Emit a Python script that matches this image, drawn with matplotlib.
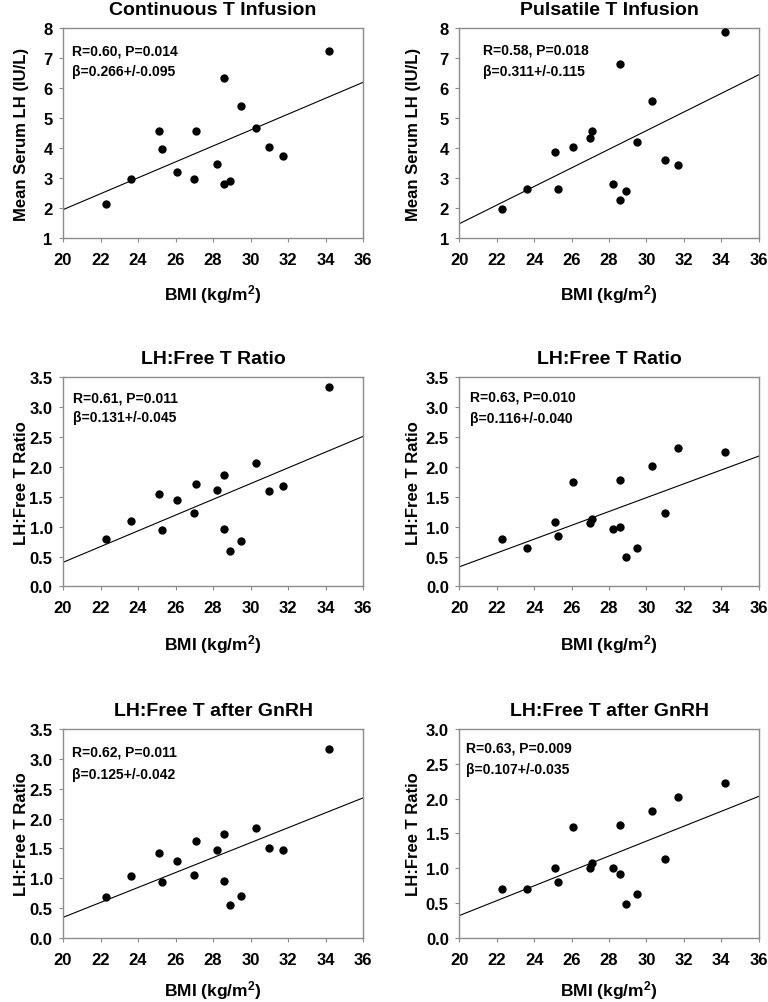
import numpy as np
import matplotlib
matplotlib.use("Agg")
import matplotlib.pyplot as plt

# Data
bmi = [22.3, 23.6, 25.1, 25.3, 26.1, 27.0, 27.1, 28.2, 28.6, 28.6, 28.9, 29.5, 30.3, 31.0, 31.7, 34.2]

cont_lh = [2.15, 2.96, 4.56, 3.97, 3.21, 2.97, 4.57, 3.47, 6.34, 2.80, 2.90, 5.40, 4.66, 4.03, 3.73, 7.24]
puls_lh = [1.97, 2.62, 3.87, 2.65, 4.02, 4.35, 4.58, 2.81, 6.80, 2.26, 2.57, 4.20, 5.58, 3.59, 3.45, 7.86]
cont_ratio = [0.80, 1.09, 1.54, 0.95, 1.45, 1.23, 1.71, 1.61, 1.87, 0.96, 0.60, 0.76, 2.06, 1.59, 1.67, 3.33]
puls_ratio = [0.79, 0.64, 1.08, 0.85, 1.74, 1.06, 1.13, 0.96, 1.78, 1.00, 0.50, 0.65, 2.02, 1.23, 2.31, 2.24]
cont_gnrh = [0.69, 1.03, 1.43, 0.93, 1.29, 1.06, 1.63, 1.47, 1.74, 0.95, 0.55, 0.71, 1.85, 1.50, 1.48, 3.17]
puls_gnrh = [0.71, 0.71, 1.01, 0.80, 1.59, 1.01, 1.07, 1.01, 1.62, 0.92, 0.49, 0.63, 1.83, 1.14, 2.02, 2.22]

titles = ["Continuous T Infusion", "Pulsatile T Infusion",
          "LH:Free T Ratio", "LH:Free T Ratio",
          "LH:Free T after GnRH", "LH:Free T after GnRH"]
ylabels = ["Mean Serum LH (IU/L)", "Mean Serum LH (IU/L)",
           "LH:Free T Ratio", "LH:Free T Ratio",
           "LH:Free T Ratio", "LH:Free T Ratio"]
r_text = ["R=0.60, P=0.014", "R=0.58, P=0.018", "R=0.61, P=0.011",
          "R=0.63, P=0.010", "R=0.62, P=0.011", "R=0.63, P=0.009"]
beta_text = ["\u03b2=0.266+/-0.095", "\u03b2=0.311+/-0.115", "\u03b2=0.131+/-0.045",
             "\u03b2=0.116+/-0.040", "\u03b2=0.125+/-0.042", "\u03b2=0.107+/-0.035"]
y_series = [cont_lh, puls_lh, cont_ratio, puls_ratio, cont_gnrh, puls_gnrh]
y_ticks = [np.arange(1, 8.01, 1), np.arange(1, 8.01, 1),
           np.arange(0, 3.51, 0.5), np.arange(0, 3.51, 0.5),
           np.arange(0, 3.51, 0.5), np.arange(0, 3.01, 0.5)]
x_ticks = np.arange(20, 36.01, 2)

# Fonts
plt.rcParams['font.family'] = ['Liberation Sans', 'DejaVu Sans']
plt.rcParams['font.weight'] = 'bold'
plt.rcParams['mathtext.fontset'] = 'custom'
plt.rcParams['mathtext.rm'] = 'Liberation Sans:bold'
plt.rcParams['mathtext.bf'] = 'Liberation Sans:bold'
plt.rcParams['mathtext.default'] = 'bf'

fig = plt.figure(figsize=(7.68, 10.03), dpi=100)

# axes rectangles (fractions of figure)
col_left = [0.082, 0.598]
col_width = [0.391, 0.390]
row_bottom = [0.7617, 0.4143, 0.0638]
row_height = [0.2094, 0.2089, 0.2084]
text_x = [0.029, 0.079, 0.032, 0.037, 0.029, 0.023]
text_y1 = [0.876, 0.880, 0.883, 0.888, 0.872, 0.890]
text_y2 = [0.776, 0.776, 0.790, 0.785, 0.766, 0.790]
xlabel_y = [-0.21, -0.21, -0.216, -0.216, -0.192, -0.192]
ylabel_x = [-0.112, -0.128]

grey = "#8c8c8c"

for i in range(6):
    r, c = divmod(i, 2)
    ax = fig.add_axes([col_left[c], row_bottom[r], col_width[c], row_height[r]])

    yv = y_series[i]
    ax.scatter(bmi, yv, s=36, color="black", zorder=3, linewidths=0)

    # least squares line across the full x range
    slope, intercept = np.polyfit(bmi, yv, 1)
    xx = np.array([20, 36])
    ax.plot(xx, intercept + slope * xx, color="black", lw=0.8, zorder=2)

    ax.set_xlim(20, 36)
    ax.set_ylim(y_ticks[i][0], y_ticks[i][-1])
    ax.set_xticks(x_ticks)
    ax.set_yticks(y_ticks[i])
    ax.set_xticklabels([str(int(v)) for v in x_ticks])
    if i < 2:
        ax.set_yticklabels([str(int(v)) for v in y_ticks[i]])
    else:
        ax.set_yticklabels(["%.1f" % v for v in y_ticks[i]])

    for sp in ax.spines.values():
        sp.set_color(grey)
        sp.set_linewidth(1.0)
    ax.tick_params(axis='both', direction='out', length=3, width=0.8, color=grey,
                   labelsize=12)
    ax.tick_params(axis='x', pad=7)
    ax.tick_params(axis='y', pad=4.5)
    for lab in ax.get_xticklabels() + ax.get_yticklabels():
        lab.set_fontweight('bold')

    ax.set_title(titles[i], fontsize=14, fontweight='bold', pad=10)
    ax.set_xlabel(r"BMI (kg/m$^{2}$)", fontsize=12.5, fontweight='bold')
    ax.xaxis.set_label_coords(0.5, xlabel_y[i])
    ax.set_ylabel(ylabels[i], fontsize=12, fontweight='bold')
    ax.yaxis.set_label_coords(ylabel_x[c], 0.5)

    ax.text(text_x[i], text_y1[i], r_text[i], transform=ax.transAxes,
            fontsize=10, fontweight='bold', va='baseline')
    ax.text(text_x[i], text_y2[i], beta_text[i], transform=ax.transAxes,
            fontsize=10, fontweight='bold', va='baseline')

plt.savefig("out.png", dpi=100)
